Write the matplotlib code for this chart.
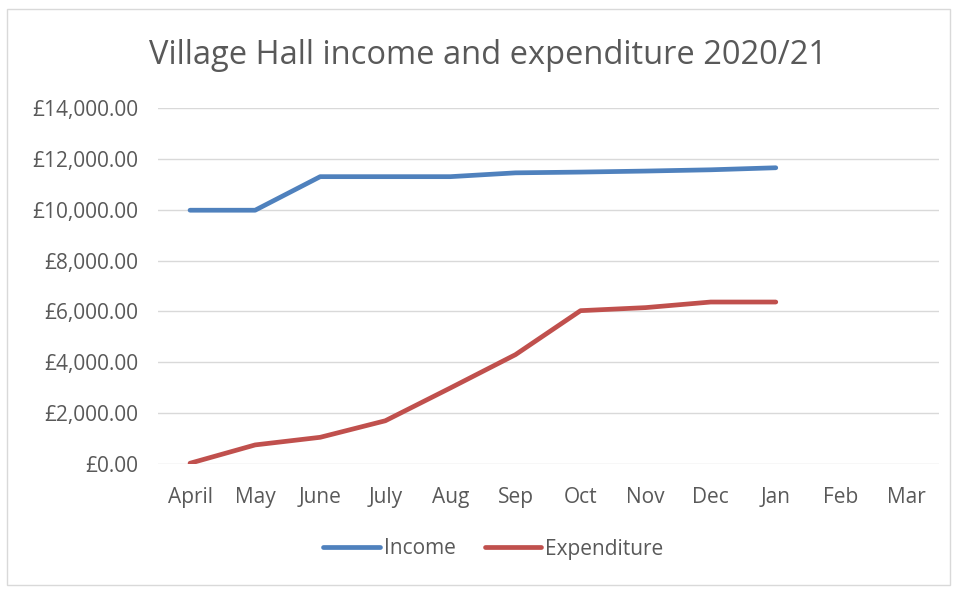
import matplotlib
matplotlib.use('Agg')
from matplotlib import pyplot as plt
from matplotlib.patches import Rectangle
from matplotlib.ticker import FuncFormatter
import numpy as np

plt.rcParams['font.family'] = ['Open Sans', 'DejaVu Sans']

months = ['April', 'May', 'June', 'July', 'Aug', 'Sep', 'Oct', 'Nov', 'Dec', 'Jan', 'Feb', 'Mar']
income = [9980, 9980, 11300, 11300, 11300, 11450, 11480, 11520, 11570, 11650]
expenditure = [30, 750, 1050, 1700, 2990, 4300, 6030, 6150, 6370, 6370]

grey = '#595959'

fig = plt.figure(figsize=(9.58, 5.89), dpi=100)
# light frame around the whole chart
fig.patches.append(Rectangle((7 / 958, 4 / 589), 943 / 958, 576 / 589, transform=fig.transFigure,
                             fill=False, edgecolor='#D9D9D9', lw=1))

ax = fig.add_axes([157.5 / 958, 1 - 464 / 589, 781 / 958, 356 / 589])

x = np.arange(len(months))
ax.plot(x[:len(income)], income, color='#4F81BD', lw=3.4, solid_capstyle='round',
        solid_joinstyle='round', label='Income')
ax.plot(x[:len(expenditure)], expenditure, color='#C0504D', lw=3.4, solid_capstyle='round',
        solid_joinstyle='round', label='Expenditure')

ax.set_xlim(-0.5, len(months) - 0.5)
ax.set_ylim(0, 14000)
ax.set_yticks(np.arange(0, 14001, 2000))
ax.yaxis.set_major_formatter(FuncFormatter(lambda v, p: '£{:,.2f}'.format(v)))
ax.set_xticks(x)
ax.set_xticklabels(months)
ax.grid(axis='y', color='#D9D9D9', lw=1)
ax.set_axisbelow(True)
for s in ax.spines.values():
    s.set_visible(False)
ax.tick_params(length=0, colors=grey, labelsize=15)
ax.tick_params(axis='x', pad=16.5)
ax.tick_params(axis='y', pad=14)

fig.text(0.509, 1 - 55 / 589, 'Village Hall income and expenditure 2020/21', ha='center', va='center',
         fontsize=23.5, color=grey)

fig.legend(loc='center', bbox_to_anchor=(0.515, 1 - 549 / 589), ncol=2, frameon=False,
           fontsize=15, labelcolor=grey, handlelength=2.7, handletextpad=0.2, columnspacing=1.4)

fig.savefig('out.png', dpi=100)
